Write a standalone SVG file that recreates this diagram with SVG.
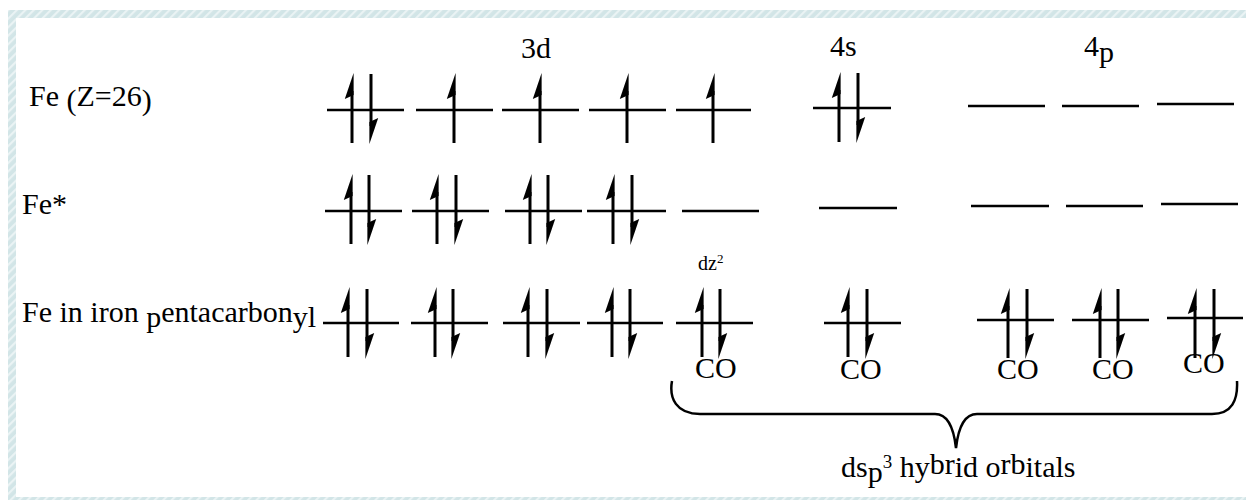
<svg xmlns="http://www.w3.org/2000/svg" width="1246" height="500" viewBox="0 0 1246 500">
<defs>
<pattern id="hatch" width="6" height="6" patternUnits="userSpaceOnUse" patternTransform="rotate(45)">
<rect width="6" height="6" fill="#d2e5e7"/>
<rect width="2.2" height="6" fill="#eaf3f4"/>
</pattern>
<g id="up"><line x1="0" y1="18" x2="0" y2="70" class="sh"/><polygon points="1.6,0 1.6,22 -7.2,26"/></g>
<g id="dn"><line x1="0" y1="0" x2="0" y2="52" class="sh"/><polygon points="-1.6,70 -1.6,48 7.2,44"/></g>
</defs>
<style>
.sh{stroke:#000;stroke-width:3;fill:none}
.lv{stroke:#000;stroke-width:2.5;fill:none}
polygon{fill:#000}
text{font-family:"Liberation Serif","Times New Roman",serif;font-size:30px;fill:#000}
.sm{font-size:20px}
.brace{stroke:#000;stroke-width:2.5;fill:none}
</style>
<rect x="0" y="0" width="1246" height="500" fill="#fff"/>
<g id="frame">
<rect x="8" y="10" width="1238" height="8" fill="url(#hatch)"/>
<rect x="8" y="10" width="8" height="490" fill="url(#hatch)"/>
<rect x="8" y="497" width="1238" height="3" fill="url(#hatch)"/>
</g>

<g id="labels">
<text x="521" y="58">3d</text>
<text x="830" y="56">4s</text>
<text x="1084" y="56">4<tspan dy="6">p</tspan></text>
<text x="29" y="106">Fe <tspan dy="4">(</tspan><tspan dy="-4">Z=26</tspan><tspan dy="4">)</tspan></text>
<text x="22" y="214">Fe*</text>
<text x="22" y="322">Fe in iron <tspan dy="5">p</tspan><tspan dy="-5">entacarbon</tspan><tspan dy="5">yl</tspan></text>
<text x="841" y="477">ds<tspan dy="5">p</tspan><tspan font-size="19px" dy="-14">3</tspan><tspan dy="9"> hy</tspan><tspan dy="-3">br</tspan><tspan dy="3">id o</tspan><tspan dy="-3">rb</tspan><tspan dy="3">itals</tspan></text>
</g>

<g id="row1">
<g id="r1-3d-1"><line class="lv" x1="327" y1="110" x2="404" y2="110"/><use href="#up" x="352" y="73"/><use href="#dn" x="371" y="74"/></g>
<g id="r1-3d-2"><line class="lv" x1="416" y1="110" x2="493" y2="110"/><use href="#up" x="454" y="73"/></g>
<g id="r1-3d-3"><line class="lv" x1="502" y1="110" x2="579" y2="110"/><use href="#up" x="540" y="73"/></g>
<g id="r1-3d-4"><line class="lv" x1="589" y1="110" x2="666" y2="110"/><use href="#up" x="627" y="73"/></g>
<g id="r1-3d-5"><line class="lv" x1="676" y1="110" x2="751" y2="110"/><use href="#up" x="713" y="73"/></g>
<g id="r1-4s"><line class="lv" x1="813" y1="108" x2="891" y2="108"/><use href="#up" x="839" y="72"/><use href="#dn" x="858" y="73"/></g>
<g id="r1-4p-1"><line class="lv" x1="968" y1="106" x2="1045" y2="106"/></g>
<g id="r1-4p-2"><line class="lv" x1="1062" y1="106" x2="1139" y2="106"/></g>
<g id="r1-4p-3"><line class="lv" x1="1157" y1="104" x2="1234" y2="104"/></g>
</g>

<g id="row2">
<g id="r2-3d-1"><line class="lv" x1="325" y1="211" x2="402" y2="211"/><use href="#up" x="351" y="174"/><use href="#dn" x="369" y="175"/></g>
<g id="r2-3d-2"><line class="lv" x1="412" y1="211" x2="489" y2="211"/><use href="#up" x="437" y="174"/><use href="#dn" x="456" y="175"/></g>
<g id="r2-3d-3"><line class="lv" x1="505" y1="211" x2="582" y2="211"/><use href="#up" x="530" y="174"/><use href="#dn" x="548" y="175"/></g>
<g id="r2-3d-4"><line class="lv" x1="587" y1="211" x2="666" y2="211"/><use href="#up" x="613" y="174"/><use href="#dn" x="632" y="175"/></g>
<g id="r2-3d-5"><line class="lv" x1="682" y1="211" x2="759" y2="211"/></g>
<g id="r2-4s"><line class="lv" x1="819" y1="208" x2="897" y2="208"/></g>
<g id="r2-4p-1"><line class="lv" x1="971" y1="206" x2="1049" y2="206"/></g>
<g id="r2-4p-2"><line class="lv" x1="1066" y1="206" x2="1143" y2="206"/></g>
<g id="r2-4p-3"><line class="lv" x1="1161" y1="204" x2="1238" y2="204"/></g>
</g>

<g id="row3">
<g id="r3-3d-1"><line class="lv" x1="323" y1="323" x2="399" y2="323"/><use href="#up" x="348" y="287"/><use href="#dn" x="367" y="289"/></g>
<g id="r3-3d-2"><line class="lv" x1="411" y1="323" x2="488" y2="323"/><use href="#up" x="435" y="287"/><use href="#dn" x="453" y="289"/></g>
<g id="r3-3d-3"><line class="lv" x1="503" y1="323" x2="580" y2="323"/><use href="#up" x="528" y="287"/><use href="#dn" x="547" y="289"/></g>
<g id="r3-3d-4"><line class="lv" x1="587" y1="323" x2="663" y2="323"/><use href="#up" x="612" y="287"/><use href="#dn" x="630" y="289"/></g>
<g id="r3-3d-5"><line class="lv" x1="676" y1="323" x2="753" y2="323"/><use href="#up" x="702" y="287"/><use href="#dn" x="720" y="289"/>
<text class="sm" x="698" y="270">dz<tspan font-size="13px" dy="-7">2</tspan></text>
<text x="695" y="378">CO</text></g>
<g id="r3-4s"><line class="lv" x1="824" y1="323" x2="901" y2="323"/><use href="#up" x="848" y="287"/><use href="#dn" x="867" y="289"/><text x="840" y="379">CO</text></g>
<g id="r3-4p-1"><line class="lv" x1="977" y1="320" x2="1054" y2="320"/><use href="#up" x="1008" y="288"/><use href="#dn" x="1027" y="289"/><text x="997" y="379">CO</text></g>
<g id="r3-4p-2"><line class="lv" x1="1072" y1="320" x2="1149" y2="320"/><use href="#up" x="1100" y="288"/><use href="#dn" x="1118" y="289"/><text x="1092" y="379">CO</text></g>
<g id="r3-4p-3"><line class="lv" x1="1167" y1="318" x2="1243" y2="318"/><use href="#up" x="1195" y="288"/><use href="#dn" x="1214" y="289"/><text x="1183" y="373">CO</text></g>
</g>

<g id="connectors">
<path class="brace" d="M 672 381 C 669 398 676 414 700 414 L 935 414 C 948 414 954 430 956 448 C 958 430 964 414 977 414 L 1212 414 C 1232 414 1238 400 1237 381"/>
</g>
</svg>
